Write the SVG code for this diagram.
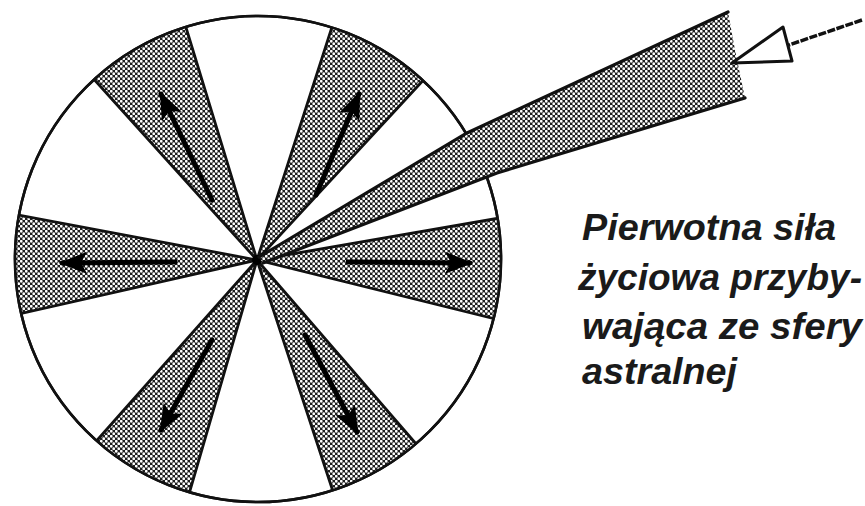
<svg xmlns="http://www.w3.org/2000/svg" width="865" height="506" viewBox="0 0 865 506">
<style>
.wedge{fill:url(#stip);stroke:#111;stroke-width:2.8;stroke-linejoin:round}
.ring{fill:none;stroke:#111;stroke-width:2.6}
.edge{fill:none;stroke:#111;stroke-width:3.2;stroke-linecap:round}
.arr{fill:none;stroke:#000;stroke-width:5;stroke-linecap:round;marker-end:url(#head)}
.lbl{font-family:"Liberation Sans",Arial,sans-serif;font-style:italic;font-weight:bold;font-size:36px;fill:#1a1a1a}
</style>
<defs>
<pattern id="stip" width="5" height="5" patternUnits="userSpaceOnUse">
<rect width="5" height="5" fill="#1e1e1e"/>
<circle cx="1.25" cy="1.25" r="1.4" fill="#fff"/>
<circle cx="3.75" cy="3.75" r="1.4" fill="#fff"/>
</pattern>
<clipPath id="disc"><circle cx="258" cy="259" r="243"/></clipPath>
<marker id="head" markerUnits="userSpaceOnUse" viewBox="0 0 28 22" refX="25" refY="11" markerWidth="28" markerHeight="22" orient="auto" overflow="visible">
<path d="M0,0 L28,11 L0,22 L6,11 z" fill="#000"/>
</marker>
</defs>
<rect width="865" height="506" fill="#fff"/>
<g id="wheel">
<circle class="ring" cx="258" cy="259" r="243" fill="#fff"/>
<g clip-path="url(#disc)">
<polygon id="wedge-ul" class="wedge" points="257,260 73,56 177,-2"/>
<polygon id="wedge-ur" class="wedge" points="257,260 341,-1 441,61"/>
<polygon id="wedge-l" class="wedge" points="257,260 -19,208 -12,321"/>
<polygon id="wedge-r" class="wedge" points="257,260 534,212 528,327"/>
<polygon id="wedge-ll" class="wedge" points="257,260 76,464 180,525"/>
<polygon id="wedge-lr" class="wedge" points="257,260 344,525 436,467"/>
</g>
<circle class="ring" cx="258" cy="259" r="243"/>
<circle cx="257" cy="260" r="5" fill="#000"/>
</g>
<g id="beam">
<polygon points="259,257 467,133 728,12 735,50 745,98 497,173 263,263" fill="url(#stip)"/>
<polyline class="edge" points="259,257 467,133 728,12"/>
<polyline class="edge" points="263,263 497,173 745,98"/>
</g>
<g id="connectors">
<line class="arr" x1="212" y1="200" x2="161" y2="94"/>
<line class="arr" x1="316" y1="195" x2="359" y2="94"/>
<line class="arr" x1="175" y1="262" x2="62" y2="263"/>
<line class="arr" x1="348" y1="262" x2="470" y2="263"/>
<line class="arr" x1="212" y1="340" x2="161" y2="430"/>
<line class="arr" x1="305" y1="335" x2="357" y2="432"/>
<g id="incoming">
<line x1="862" y1="20" x2="786" y2="46" stroke="#111" stroke-width="3.5" stroke-dasharray="8 1.5"/>
<polygon points="732,63 783,27 792,61" fill="#fff" stroke="#111" stroke-width="3" stroke-linejoin="round"/>
</g>
</g>
<g id="label" class="lbl">
<text x="582" y="240" textLength="254" lengthAdjust="spacingAndGlyphs">Pierwotna siła</text>
<text x="578" y="290" textLength="284" lengthAdjust="spacingAndGlyphs">życiowa przyby-</text>
<text x="582" y="339" textLength="280" lengthAdjust="spacingAndGlyphs">wająca ze sfery</text>
<text x="582" y="384" textLength="155" lengthAdjust="spacingAndGlyphs">astralnej</text>
</g>
</svg>
